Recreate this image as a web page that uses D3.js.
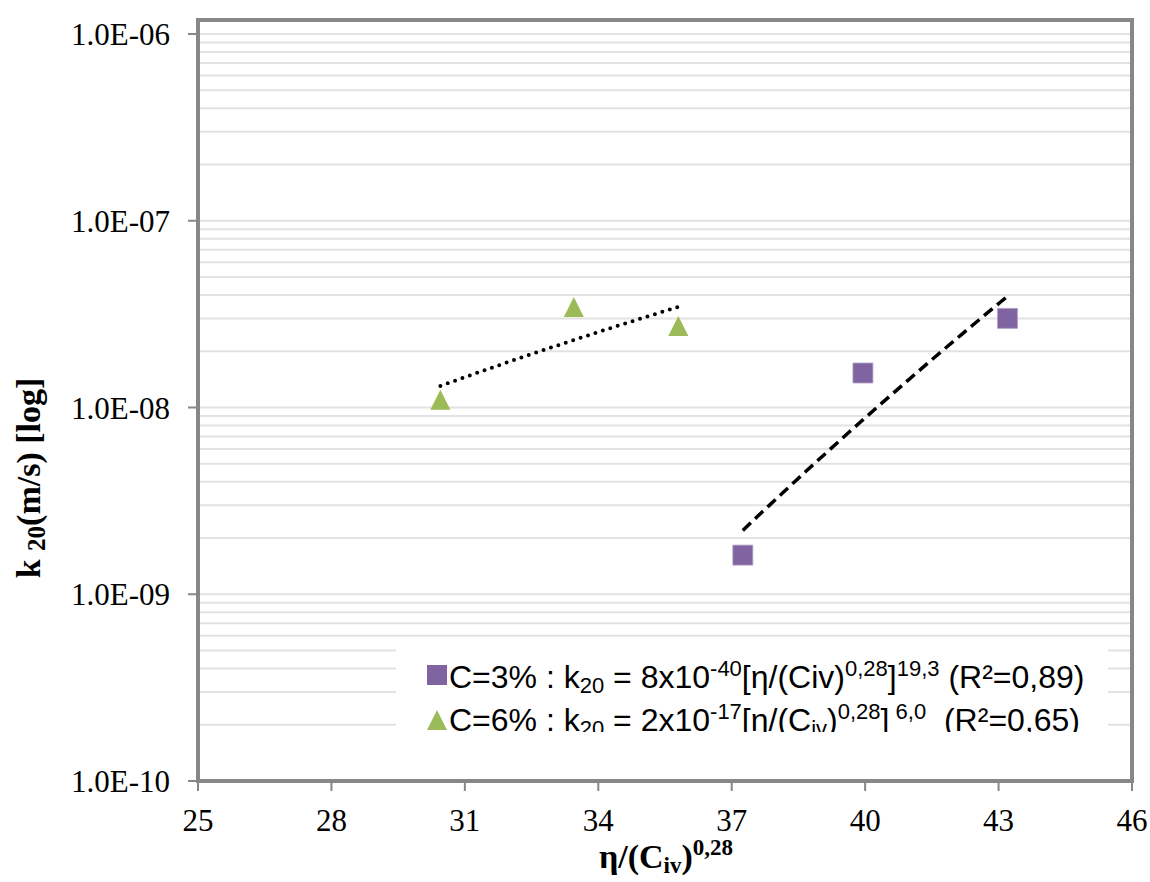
<!DOCTYPE html>
<html>
<head>
<meta charset="utf-8">
<script src="https://cdn.jsdelivr.net/npm/d3@7"></script>
<style>
  body { margin: 0; background: #fff; }
  svg { display: block; }
  .serif { font-family: "Liberation Serif", "Times New Roman", serif; }
  .sans { font-family: "Liberation Sans", Arial, sans-serif; }
</style>
</head>
<body>
<svg id="viz"></svg>
<script>
const WIDTH = 1150;
const HEIGHT = 882;

// plot frame (pixels)
const PLOT = { left: 198, right: 1132, top: 20, bottom: 781 };

// data
const c3X = [37.25, 39.95, 43.2];
const c3K = [1.62e-9, 1.53e-8, 3.0e-8];
const c6X = [30.45, 33.45, 35.8];
const c6K = [1.1e-8, 3.45e-8, 2.73e-8];

const xTicks = [25, 28, 31, 34, 37, 40, 43, 46];
const yTicks = [1e-10, 1e-9, 1e-8, 1e-7, 1e-6];
const yTickLabels = ["1.0E-10", "1.0E-09", "1.0E-08", "1.0E-07", "1.0E-06"];

const PURPLE = "#8064a2";
const GREEN = "#9bbb59";
const FRAME = "#878787";
const GRID = "#e2e2e2";

const svg = d3.select("#viz").attr("width", WIDTH).attr("height", HEIGHT);

const x = d3.scaleLinear().domain([25, 46]).range([PLOT.left, PLOT.right]);
const y = d3.scaleLog().domain([1e-10, 1e-6]).range([781, 34]);

// gridlines: every 1..9 x decade
const gridVals = [];
for (let d = -10; d <= -7; d++) {
  for (let k = 1; k <= 9; k++) {
    const v = k * Math.pow(10, d);
    if (v > 1e-10) gridVals.push(v);
  }
}
gridVals.push(1e-6);

svg.append("g").selectAll("line")
  .data(gridVals)
  .join("line")
  .attr("x1", PLOT.left).attr("x2", PLOT.right)
  .attr("y1", d => y(d)).attr("y2", d => y(d))
  .attr("stroke", GRID).attr("stroke-width", 2);

// ticks
svg.append("g").selectAll("line")
  .data(yTicks)
  .join("line")
  .attr("x1", PLOT.left - 10).attr("x2", PLOT.left)
  .attr("y1", d => y(d)).attr("y2", d => y(d))
  .attr("stroke", FRAME).attr("stroke-width", 2);

svg.append("g").selectAll("line")
  .data(xTicks)
  .join("line")
  .attr("x1", d => x(d)).attr("x2", d => x(d))
  .attr("y1", PLOT.bottom).attr("y2", PLOT.bottom + 10)
  .attr("stroke", FRAME).attr("stroke-width", 2);

// tick labels
svg.append("g").attr("class", "serif").selectAll("text")
  .data(yTicks)
  .join("text")
  .attr("x", 170).attr("y", d => y(d) + 11)
  .attr("text-anchor", "end")
  .attr("font-size", 31)
  .text((d, i) => yTickLabels[i]);

svg.append("g").attr("class", "serif").selectAll("text")
  .data(xTicks)
  .join("text")
  .attr("x", d => x(d)).attr("y", 831)
  .attr("text-anchor", "middle")
  .attr("font-size", 31)
  .text(d => d);

// trend lines: power fit in log-log space, like the spreadsheet trendline
function powerFit(xs, ks) {
  const lx = xs.map(Math.log10), ly = ks.map(Math.log10);
  const mx = d3.mean(lx), my = d3.mean(ly);
  const b = d3.sum(lx, (v, i) => (v - mx) * (ly[i] - my)) / d3.sum(lx, v => (v - mx) ** 2);
  const a = my - b * mx;
  const [x0, x1] = d3.extent(xs);
  return d3.range(0, 41).map(i => {
    const xv = x0 + (x1 - x0) * i / 40;
    return [xv, Math.pow(10, a + b * Math.log10(xv))];
  });
}

const line = d3.line().x(d => x(d[0])).y(d => y(d[1]));

svg.append("path")
  .attr("d", line(powerFit(c3X, c3K)))
  .attr("fill", "none").attr("stroke", "#000")
  .attr("stroke-width", 3.5)
  .attr("stroke-dasharray", "11,6");

svg.append("path")
  .attr("d", line(powerFit(c6X, c6K)))
  .attr("fill", "none").attr("stroke", "#000")
  .attr("stroke-width", 4)
  .attr("stroke-linecap", "round")
  .attr("stroke-dasharray", "0,7.8");

// markers
const sq = d3.symbol().type(d3.symbolSquare).size(400);
// 20px wide triangle, centred on its box
const triType = {
  draw(ctx, size) {
    const h = Math.sqrt(size);
    ctx.moveTo(0, -h / 2);
    ctx.lineTo(h / 2, h / 2);
    ctx.lineTo(-h / 2, h / 2);
    ctx.closePath();
  }
};
const tri = d3.symbol().type(triType).size(400);

svg.append("g").selectAll("path")
  .data(c3X)
  .join("path")
  .attr("transform", (d, i) => `translate(${x(d)},${y(c3K[i])})`)
  .attr("d", sq)
  .attr("fill", PURPLE).attr("stroke", "#b3a2c7").attr("stroke-width", 0.8);

svg.append("g").selectAll("path")
  .data(c6X)
  .join("path")
  .attr("transform", (d, i) => `translate(${x(d)},${y(c6K[i])})`)
  .attr("d", tri)
  .attr("fill", GREEN);

// frame
svg.append("rect")
  .attr("x", PLOT.left).attr("y", PLOT.top)
  .attr("width", PLOT.right - PLOT.left).attr("height", PLOT.bottom - PLOT.top)
  .attr("fill", "none").attr("stroke", FRAME).attr("stroke-width", 4);

// legend
const LEG = { x: 396, y: 645, w: 712, h: 87 };
svg.append("clipPath").attr("id", "legclip")
  .append("rect").attr("x", LEG.x).attr("y", LEG.y).attr("width", LEG.w).attr("height", LEG.h);

const leg = svg.append("g").attr("clip-path", "url(#legclip)");
leg.append("rect")
  .attr("x", LEG.x).attr("y", LEG.y).attr("width", LEG.w).attr("height", LEG.h)
  .attr("fill", "#fff");

// text pieces: [text, kind] kind: n normal, sub, sup
const legend3 = [["C=3% : k", "n"], ["20", "sub"], [" = 8x10", "n"], ["-40", "sup"],
  ["[η/(Civ)", "n"], ["0,28", "sup"], ["]", "n"], ["19,3", "sup"], [" (R²=0,89)", "n"]];
const legend6 = [["C=6% : k", "n"], ["20", "sub"], [" = 2x10", "n"], ["-17", "sup"],
  ["[η/(C", "n"], ["iv", "sub"], [")", "n"], ["0,28", "sup"], ["]", "n"], [" 6,0", "sup"], ["  (R²=0,65)", "n"]];

const SHIFT = { n: 0, sub: 5, sup: -12 };
function richText(sel, parts, size, small) {
  let prev = 0;
  parts.forEach(([t, k]) => {
    const shift = SHIFT[k] * size / 31;
    sel.append("tspan")
      .attr("dy", shift - prev)
      .attr("font-size", k === "n" ? size : small)
      .text(t);
    prev = shift;
  });
}

const legItems = [
  { parts: legend3, base: 688, cy: 675, sym: sq, color: PURPLE },
  { parts: legend6, base: 731, cy: 720, sym: tri, color: GREEN }
];

legItems.forEach(it => {
  leg.append("path")
    .attr("transform", `translate(437,${it.cy})`)
    .attr("d", it.sym)
    .attr("fill", it.color);
  const t = leg.append("text").attr("class", "sans")
    .attr("x", 449).attr("y", it.base)
    .style("white-space", "pre");
  richText(t, it.parts, 32, 22);
});

// axis titles
const xt = svg.append("text").attr("class", "serif")
  .attr("x", 666).attr("y", 868)
  .attr("text-anchor", "middle").attr("font-weight", "bold");
richText(xt, [["η/(C", "n"], ["iv", "sub"], [")", "n"], ["0,28", "sup"]], 34, 23);

const yt = svg.append("text").attr("class", "serif")
  .attr("transform", "translate(40,478) rotate(-90)")
  .attr("text-anchor", "middle").attr("font-weight", "bold");
richText(yt, [["k ", "n"], ["20", "sub"], ["(m/s) [log]", "n"]], 34, 25);
</script>
</body>
</html>
